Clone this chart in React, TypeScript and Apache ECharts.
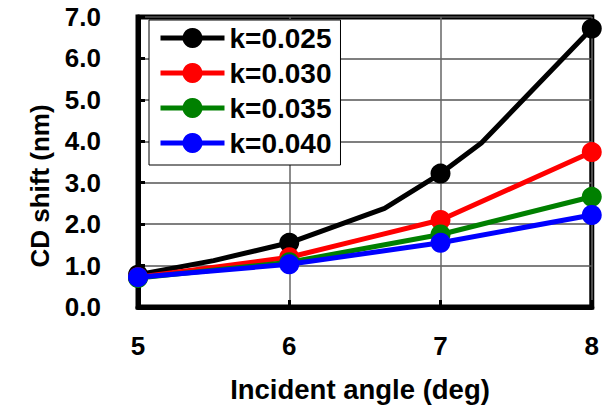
import React, { useEffect, useRef } from 'react';
import * as echarts from 'echarts';

const seriesNames = ['k=0.025', 'k=0.030', 'k=0.035', 'k=0.040'];
const seriesColors = ['#000000', '#ff0000', '#008000', '#0000ff'];

const xK025 = [5, 5.5, 6, 6.63, 7, 7.27, 8];
const yK025 = [0.78, 1.12, 1.55, 2.38, 3.22, 3.96, 6.72];
const xK030 = [5, 6, 6.5, 7, 8];
const yK030 = [0.72, 1.2, 1.65, 2.1, 3.74];
const xK035 = [5, 6, 7, 8];
const yK035 = [0.7, 1.08, 1.75, 2.66];
const xK040 = [5, 6, 7, 8];
const yK040 = [0.72, 1.03, 1.55, 2.22];

const xTitle = 'Incident angle (deg)';
const yTitle = 'CD shift (nm)';

const FONT = "'Liberation Sans', Arial, sans-serif";

function makeData(xs: number[], ys: number[]) {
  return xs.map((x, i) => ({
    value: [x, ys[i]],
    symbol: Number.isInteger(x) ? 'circle' : 'none',
  }));
}

export default function App() {
  const ref = useRef<HTMLDivElement>(null);
  useEffect(() => {
    if (!ref.current) return;
    const chart = echarts.init(ref.current, undefined, { renderer: 'svg' });
    const all = [
      [xK025, yK025],
      [xK030, yK030],
      [xK035, yK035],
      [xK040, yK040],
    ];
    chart.setOption({
      animation: false,
      backgroundColor: '#ffffff',
      grid: {
        left: 138,
        right: 6,
        top: 17,
        bottom: 100,
        show: true,
        borderColor: '#000',
        borderWidth: 5,
        backgroundColor: 'transparent',
      },
      legend: {
        orient: 'vertical',
        left: 149,
        top: 20,
        itemWidth: 64,
        itemHeight: 25,
        itemGap: 7,
        padding: [4, 9, 8, 9],
        backgroundColor: '#ffffff',
        borderColor: '#000',
        borderWidth: 1,
        borderRadius: 0,
        lineStyle: { width: 5 },
        textStyle: { fontFamily: FONT, fontWeight: 'bold', fontSize: 28, color: '#000' },
        data: seriesNames,
      },
      xAxis: {
        type: 'value',
        min: 5,
        max: 8,
        interval: 1,
        axisLine: { show: true, lineStyle: { color: '#000', width: 5 } },
        axisTick: { show: true, inside: true, length: 7, lineStyle: { color: '#000', width: 3 } },
        splitLine: { show: true, lineStyle: { color: '#666', width: 1.5 } },
        axisLabel: {
          margin: 26,
          fontFamily: FONT,
          fontWeight: 'bold',
          fontSize: 26,
          color: '#000',
          formatter: (v: number) => String(v),
        },
      },
      yAxis: {
        type: 'value',
        min: 0,
        max: 7,
        interval: 1,
        axisLine: { show: true, lineStyle: { color: '#000', width: 5 } },
        axisTick: { show: true, inside: true, length: 7, lineStyle: { color: '#000', width: 3 } },
        splitLine: { show: true, lineStyle: { color: '#555', width: 1.5 } },
        axisLabel: {
          margin: 37,
          fontFamily: FONT,
          fontWeight: 'bold',
          fontSize: 26,
          color: '#000',
          formatter: (v: number) => v.toFixed(1),
        },
      },
      graphic: [
        {
          type: 'text',
          x: 40,
          y: 186,
          rotation: Math.PI / 2,
          style: {
            text: yTitle,
            font: `bold 26px ${FONT}`,
            fill: '#000',
            textAlign: 'center',
            textVerticalAlign: 'middle',
          },
        },
        {
          type: 'text',
          x: 360,
          y: 389,
          style: {
            text: xTitle,
            font: `bold 27.5px ${FONT}`,
            fill: '#000',
            textAlign: 'center',
            textVerticalAlign: 'middle',
          },
        },
      ],
      series: seriesNames.map((name, i) => ({
        name,
        type: 'line',
        data: makeData(all[i][0], all[i][1]),
        symbol: 'circle',
        symbolSize: 20,
        clip: false,
        color: seriesColors[i],
        lineStyle: { color: seriesColors[i], width: 5 },
        itemStyle: { color: seriesColors[i] },
        z: 2 + i,
      })),
    });
    return () => chart.dispose();
  }, []);
  return (
    <div
      ref={ref}
      style={{ position: 'fixed', left: 0, top: 0, width: 602, height: 407 }}
    />
  );
}
